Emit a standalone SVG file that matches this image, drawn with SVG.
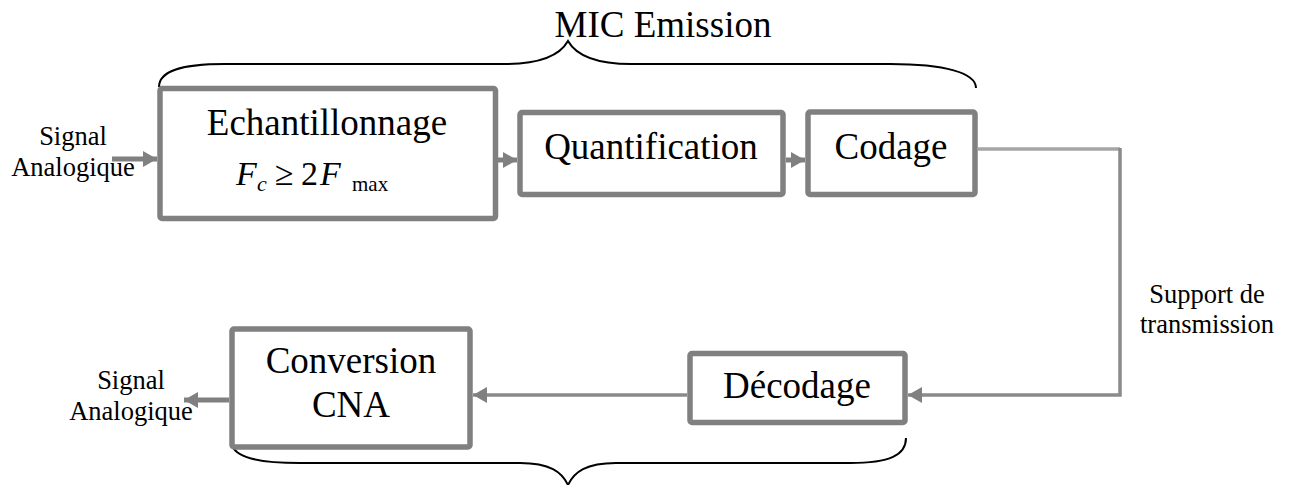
<svg xmlns="http://www.w3.org/2000/svg" width="1289" height="485" viewBox="0 0 1289 485">
<defs>
<style>
.box{fill:#fff;stroke:#808080;stroke-width:5.5}
.lbl{font-family:"Liberation Serif","Times New Roman",serif;font-size:37px;fill:#000;text-anchor:middle}
.sm{font-family:"Liberation Serif","Times New Roman",serif;font-size:26.5px;fill:#000;text-anchor:middle}
.math{font-family:"Liberation Serif","Times New Roman",serif;fill:#000}
.con{fill:none;stroke:#808080;stroke-width:5}
.thin{fill:none;stroke:#8a8a8a;stroke-width:3.5}
.brace{fill:none;stroke:#000;stroke-width:2}
</style>
<marker id="ah" markerUnits="userSpaceOnUse" markerWidth="14" markerHeight="16" refX="14" refY="8" orient="auto">
<path d="M0,0 L14,8 L0,16 z" fill="#808080"/>
</marker>
</defs>
<rect width="1289" height="485" fill="#fff"/>

<g id="braces">
<path class="brace" d="M159,87 C159,72 178,64 225,64 L505,64 C540,64 560,55 568,41 C576,55 596,64 631,64 L890,64 C945,64 976,73 976,88"/>
<path class="brace" d="M231,440 C231,455 250,463 300,463 L520,463 C550,463 562,472 568,485 C574,472 586,463 616,463 L850,463 C890,463 906,455 906,438"/>
</g>
<text class="lbl" x="663" y="37">MIC Emission</text>

<g id="connectors">
<line class="con" x1="112" y1="159" x2="157" y2="159" marker-end="url(#ah)"/>
<line class="con" x1="498" y1="160" x2="517" y2="160" marker-end="url(#ah)"/>
<line class="con" x1="786" y1="160" x2="805" y2="160" marker-end="url(#ah)"/>
<polyline fill="none" stroke="#a6a6a6" stroke-width="3.5" points="978,149 1120,149"/>
<polyline class="thin" points="1120,148 1120,395 908,395" marker-end="url(#ah)"/>
<line class="thin" x1="687" y1="395" x2="473" y2="395" marker-end="url(#ah)"/>
<line class="con" x1="229" y1="400" x2="184" y2="400" marker-end="url(#ah)"/>
</g>

<g id="in-label">
<text class="sm" x="73" y="145">Signal</text>
<text class="sm" x="73" y="176">Analogique</text>
</g>

<g id="echantillonnage">
<rect class="box" x="160" y="88.5" width="335.5" height="130" rx="2"/>
<text class="lbl" x="327" y="135">Echantillonnage</text>
<text class="math" y="185" font-size="34"><tspan x="236" font-style="italic">F</tspan><tspan x="257" y="191" font-size="22" font-style="italic">c</tspan><tspan x="275" y="185">≥</tspan><tspan x="301">2</tspan><tspan x="320" font-style="italic">F</tspan><tspan x="352" y="191" font-size="21">max</tspan></text>
</g>

<g id="quantification">
<rect class="box" x="520" y="112.5" width="263" height="82" rx="2"/>
<text class="lbl" x="651" y="159">Quantification</text>
</g>

<g id="codage">
<rect class="box" x="808" y="112" width="167" height="82.5" rx="2"/>
<text class="lbl" x="891" y="159">Codage</text>
</g>

<g id="support-label">
<text class="sm" x="1207" y="303">Support de</text>
<text class="sm" x="1207" y="333">transmission</text>
</g>

<g id="decodage">
<rect class="box" x="690" y="353.5" width="215" height="69" rx="2"/>
<text class="lbl" x="797" y="398">Décodage</text>
</g>

<g id="cna">
<rect class="box" x="232" y="329" width="238" height="118" rx="2"/>
<text class="lbl" x="351" y="373">Conversion</text>
<text class="lbl" x="351" y="417">CNA</text>
</g>

<g id="out-label">
<text class="sm" x="131" y="389">Signal</text>
<text class="sm" x="131" y="420">Analogique</text>
</g>
</svg>
